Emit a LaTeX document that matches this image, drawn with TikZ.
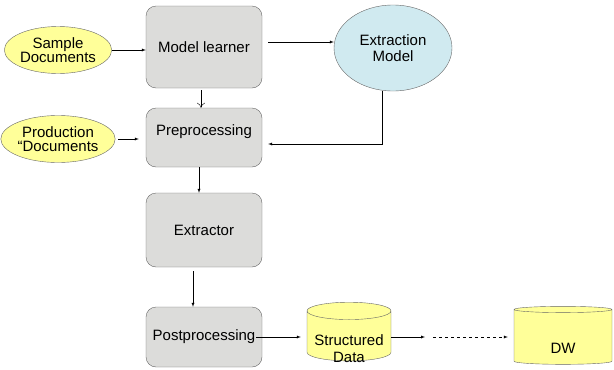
\documentclass[tikz,border=0pt]{standalone}
\usepackage{fontspec}
\setmainfont{Liberation Sans}
\usetikzlibrary{arrows, arrows.meta, shapes.geometric}
\definecolor{boxgray}{RGB}{220,220,218}
\definecolor{docyellow}{RGB}{255,255,153}
\definecolor{modelblue}{RGB}{208,234,240}

\begin{document}
\begin{tikzpicture}[x=1pt, y=-1pt]
\tikzset{every node/.style={font=\fontsize{15}{16}\selectfont, align=center},
  stage/.style={draw=black!60, fill=boxgray, rounded corners=10pt, minimum width=116pt},
  docs/.style={ellipse, draw=black!60, fill=docyellow, inner sep=0pt, minimum width=91pt, minimum height=47pt},
  store/.style={cylinder, shape border rotate=90, aspect=0.25, draw=black!60, fill=docyellow, inner sep=0pt},
  flow/.style={-latex, thin}}
  \useasboundingbox (0,0) rectangle (614,370);
  \node[stage, minimum height=82pt] (learner) at (204,47) {Model learner};
  \node[stage, minimum height=59pt] (prep) at (204,137.5) {Preprocessing\\[-2pt]\mbox{}};
  \node[stage, minimum height=74pt] (extr) at (204,230) {Extractor};
  \node[stage, minimum height=60pt] (post) at (204,337) {Postprocessing};
  \node[docs] (sample) at (58,50) {Sample\\[-2pt]Documents};
  \node[docs] (prod) at (58,139) {Production\\[-2pt]``Documents};
  \node[ellipse, draw=black!60, fill=modelblue, minimum width=118pt, minimum height=86pt] (model) at (393,48) {Extraction\\Model};
  \node[store, minimum width=84pt, minimum height=56pt] (sdata) at (349,336)
    {\raisebox{-15pt}[\height][\depth]{\begin{tabular}{@{}c@{}}Structured\\[0.5pt]Data\end{tabular}}};
  \node[store, minimum width=98pt, minimum height=58pt] (dw) at (563,337) {\raisebox{-11pt}[\height][\depth]{DW}};
  \coordinate (mid) at (429,337);

  \draw[flow] (sample.east) -- (sample.east -| learner.west);
  \draw[flow, shorten <=3pt, shorten >=7pt] (prod.east) -- (prod.east -| prep.west);
  \draw[flow, shorten <=6pt] ([yshift=5pt]learner.east) -- ([yshift=5pt]learner.east -| model.west);
  \draw[flow] ([xshift=-11pt]model.south) |- ([xshift=6pt, yshift=-6.5pt]prep.east);
  \draw[-{To[length=5pt, width=8pt]}, shorten <=2pt] ([xshift=-3pt]learner.south) -- ([xshift=-3pt]prep.north);
  \draw[flow] ([xshift=-5pt]prep.south) -- ([xshift=-5pt]extr.north);
  \draw[flow, shorten <=4pt] ([xshift=-11pt]extr.south) -- ([xshift=-11pt]post.north);
  \draw[flow] ([xshift=-6pt]post.east) -- ([xshift=-6pt]post.east -| sdata.west);
  \draw[flow] (sdata.east |- mid) -- ([xshift=-4pt]mid);
  \draw[flow, dashed, shorten >=6pt] ([xshift=4pt]mid) -- (mid -| dw.west);
\end{tikzpicture}
\end{document}
